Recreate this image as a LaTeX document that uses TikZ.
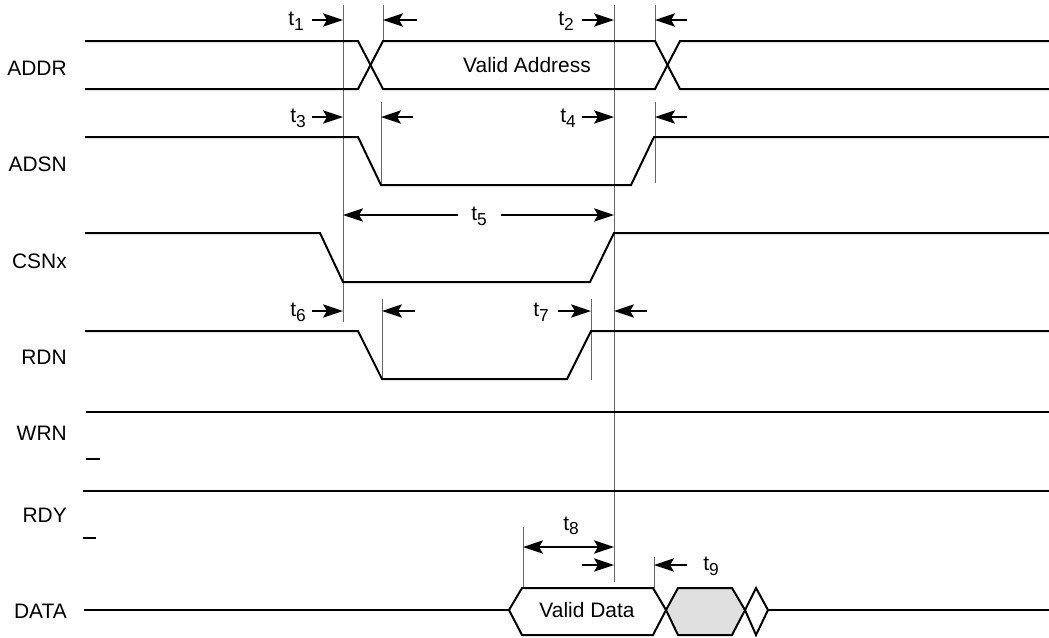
\documentclass[tikz,border=0pt]{standalone}
\usepackage{fontspec}
\setmainfont{Liberation Sans}
\usetikzlibrary{arrows.meta}

% timing label with lowered index
\newcommand{\tlab}[1]{t\raisebox{-3.5pt}{\fontsize{13}{15}\selectfont #1}}

\begin{document}
\begin{tikzpicture}[
    x=0.75pt, y=-0.75pt,
    font=\fontsize{15.7}{19}\selectfont,
    sig/.style={line width=1.5pt, line join=miter},
    guide/.style={black!60, line width=0.7pt},
    dim/.style={-{Stealth[length=15pt, width=10pt, inset=3pt]}, line width=1pt},
    dimboth/.style={{Stealth[length=15pt, width=10pt, inset=3pt]}-{Stealth[length=15pt, width=10pt, inset=3pt]}, line width=1pt},
    siglabel/.style={anchor=east, inner sep=0pt},
    tlabel/.style={inner sep=0pt}
]

\useasboundingbox (0,0) rectangle (1049,637);

% Signal names
\foreach \name/\y in {ADDR/68, ADSN/164, CSNx/261, RDN/357, WRN/433, RDY/515, DATA/611}
    \node[siglabel] (lab\name) at (67,\y) {\name};

% Guide lines
\foreach \g/\x/\ya/\yb in {A/343/5/322, B/383/5/41, C/614/5/582, D/655/5/42,
                            E/381/102/185, F/655/102/183, G/382/299/380,
                            H/591/299/380, I/523/527/588, J/654/557/588} {
    \coordinate (g\g t) at (\x,\ya);
    \coordinate (g\g b) at (\x,\yb);
    \draw[guide] (g\g t) -- (g\g b);
}

% Arrow rows
\coordinate (r1) at (0,20);
\coordinate (r3) at (0,117);
\coordinate (r5) at (0,215);
\coordinate (r6) at (0,311);
\coordinate (r8) at (0,547);
\coordinate (r9) at (0,565);

% ADDR
\draw[sig] (85,41) -- (358,41) -- (383,89) -- (655,89) -- (680,41) -- (1049,41);
\draw[sig] (85,89) -- (358,89) -- (383,41) -- (655,41) -- (680,89) -- (1049,89);
\node (addr) at (527,65) {Valid Address};

% ADSN
\draw[sig] (85,137) -- (358,137) -- (381,185) -- (631,185) -- (654,137) -- (1049,137);

% CSNx
\draw[sig] (85,233) -- (320,233) -- (343,282) -- (590,282) -- (614,233) -- (1049,233);

% RDN
\draw[sig] (85,331) -- (358,331) -- (382,379) -- (567,379) -- (591,331) -- (1049,331);

% WRN and RDY
\draw[sig] (86,412) -- (1049,412);
\draw[sig] (86,459) -- (100,459);
\draw[sig] (83,491) -- (1049,491);
\draw[sig] (83,538) -- (96,538);

% DATA
\draw[sig] (84,610) -- (509,610);
\draw[sig] (509,610) -- (522,588) -- (653,588) -- (666,610) -- (653,635) -- (522,635) -- cycle;
\draw[sig, fill=black!12] (666,610) -- (678,588) -- (732,588) -- (745,610) -- (732,635) -- (678,635) -- cycle;
\draw[sig] (745,610) -- (756,588) -- (768,610) -- (756,635) -- cycle;
\draw[sig] (768,610) -- (1049,610);
\node (vdata) at (587,610) {Valid Data};

% Timing labels
\node[tlabel, anchor=east] (t1) at (304,21) {\tlab{1}};
\node[tlabel, anchor=east] (t2) at (574,21) {\tlab{2}};
\node[tlabel, anchor=east] (t3) at (306,118) {\tlab{3}};
\node[tlabel, anchor=east] (t4) at (576,118) {\tlab{4}};
\node[tlabel] (t5) at (479,216) {\tlab{5}};
\node[tlabel, anchor=east] (t6) at (306,312) {\tlab{6}};
\node[tlabel, anchor=east] (t7) at (549,312) {\tlab{7}};
\node[tlabel, anchor=base] (t8) at (571,530) {\tlab{8}};
\node[tlabel, anchor=west] (t9) at (703,566) {\tlab{9}};

% Timing arrows
\draw[dim] (t1.east |- r1) ++(8,0) -- (gAt |- r1);
\draw[dim] (gBt |- r1) ++(34,0) -- (gBt |- r1);
\draw[dim] (t2.east |- r1) ++(8,0) -- (gCt |- r1);
\draw[dim] (gDt |- r1) ++(32,0) -- (gDt |- r1);
\draw[dim] (t3.east |- r3) ++(6,0) -- (gAt |- r3);
\draw[dim] (gEt |- r3) ++(32,0) -- (gEt |- r3);
\draw[dim] (t4.east |- r3) ++(6,0) -- (gCt |- r3);
\draw[dim] (gFt |- r3) ++(32,0) -- (gFt |- r3);
\draw[dim] (t5.west |- r5) ++(-13,0) -- (gAt |- r5);
\draw[dim] (t5.east |- r5) ++(14,0) -- (gCt |- r5);
\draw[dim] (t6.east |- r6) ++(6,0) -- (gAt |- r6);
\draw[dim] (gGt |- r6) ++(33,0) -- (gGt |- r6);
\draw[dim] (t7.east |- r6) ++(9,0) -- (gHt |- r6);
\draw[dim] (gCt |- r6) ++(33,0) -- (gCt |- r6);
\draw[dimboth] (gIt |- r8) -- (gCt |- r8);
\draw[dim] (gCt |- r9) ++(-32,0) -- (gCt |- r9);
\draw[dim] (t9.west |- r9) ++(-16,0) -- (gJt |- r9);

\end{tikzpicture}
\end{document}
